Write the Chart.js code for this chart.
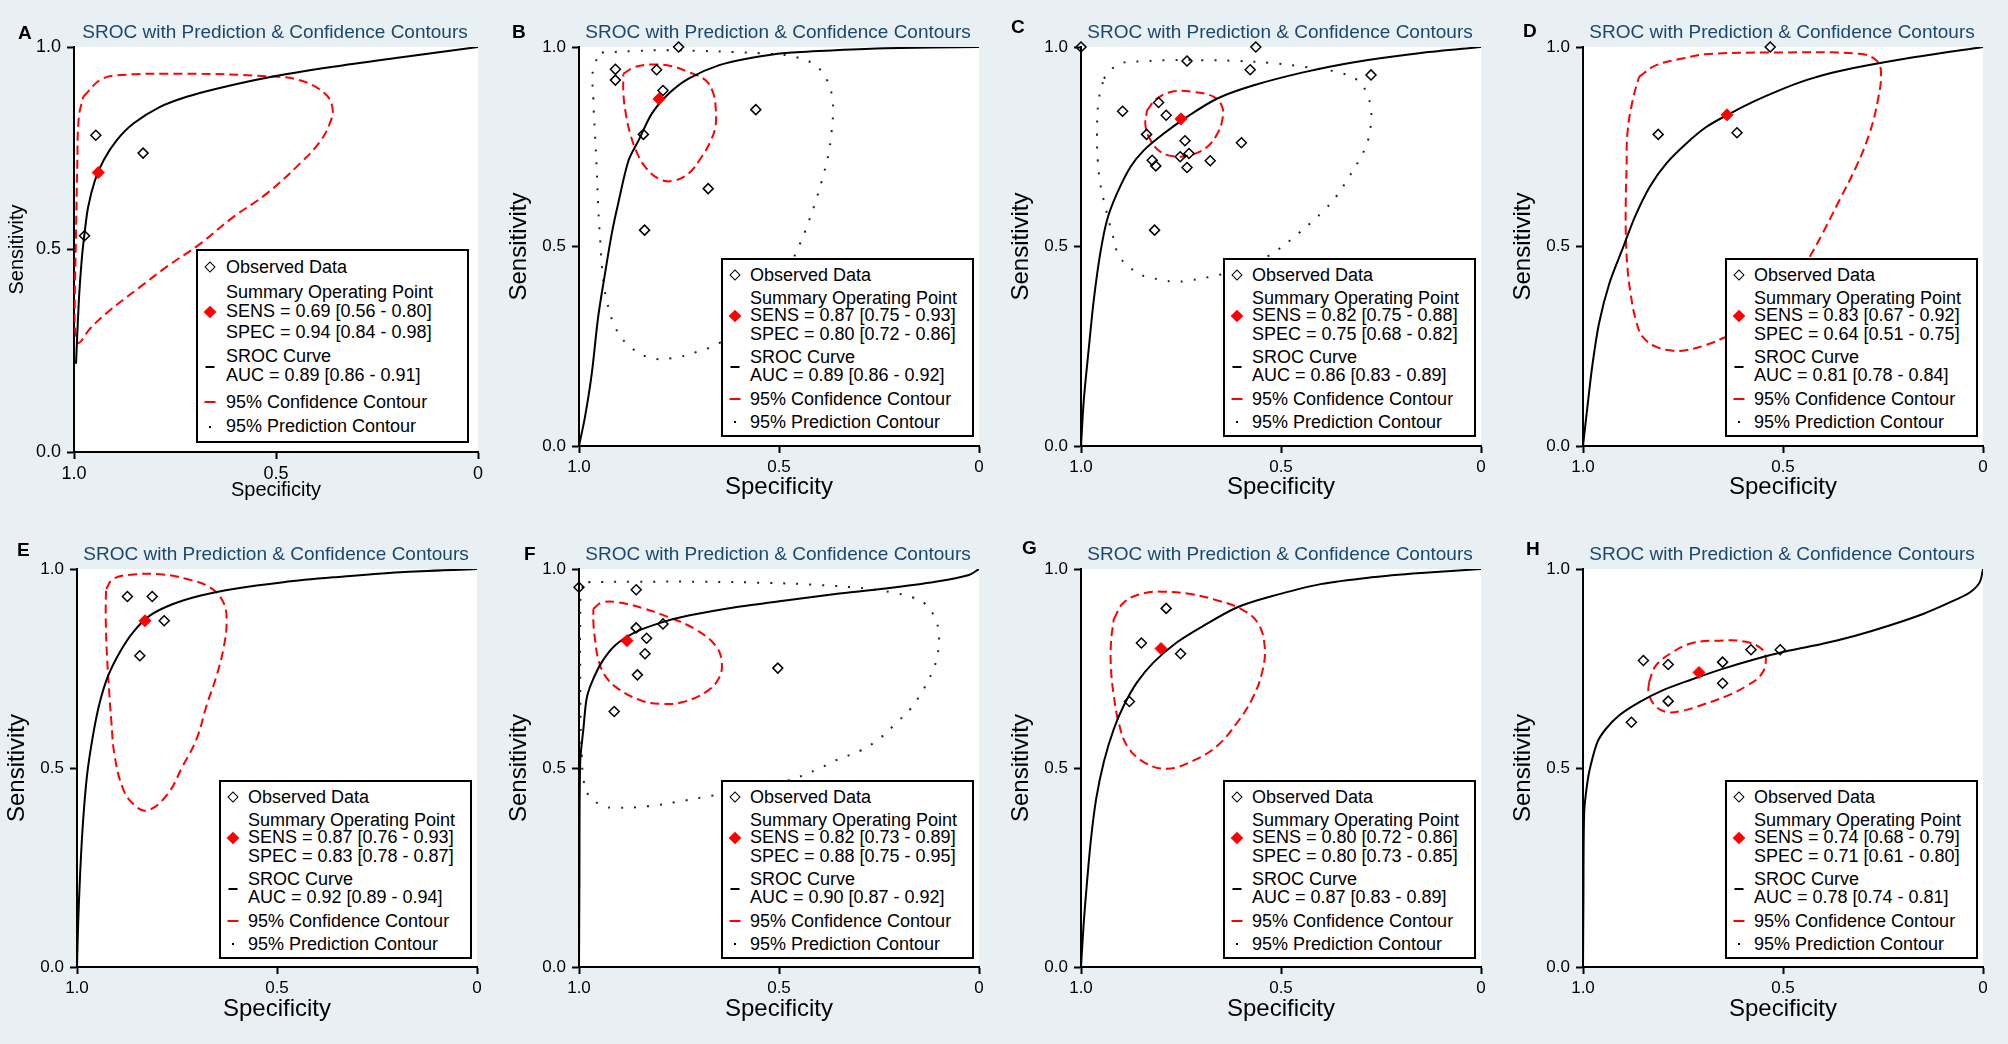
<!DOCTYPE html>
<html lang="en">
<head>
<meta charset="UTF-8">
<title>SROC with Prediction &amp; Confidence Contours</title>
<script src="https://cdn.jsdelivr.net/npm/chart.js"></script>
<style>
  body { margin: 0; background: #e9f0f3; font-family: "Liberation Sans", Arial, sans-serif; }
  #grid { position: relative; width: 2008px; height: 1044px; overflow: hidden; }
  .panel { position: absolute; width: 502px; height: 522px; }
  .panel canvas { position: absolute; left: 0; top: 0; }
  .letter { position: absolute; font-weight: bold; font-size: 19px; color: #000; transform: translateY(-50%); }
  .title { position: absolute; font-size: 19px; color: #1a476f; white-space: nowrap; transform: translate(-50%, -50%); }
  .legend { position: absolute; background: #fff; border: 2px solid #000; box-sizing: border-box; }
  .legend .txt { position: absolute; white-space: nowrap; line-height: 1; color: #000; transform: translateY(-50%); }
  .sym { position: absolute; transform: translate(-50%, -50%); }
  .s-obs { width: 6px; height: 6px; border: 1.5px solid #000; transform: translate(-50%, -50%) rotate(45deg); }
  .s-sum { width: 9px; height: 9px; background: #f00; transform: translate(-50%, -50%) rotate(45deg); }
  .s-line { width: 9px; height: 2px; background: #000; }
  .s-rline { width: 11px; height: 2px; background: #f00; }
  .s-dot { width: 2px; height: 2px; background: #000; }
</style>
</head>
<body>
<div id="grid"></div>

<script>
  // ---- data: [specificity, sensitivity] ----
  const panelLetters = ['A', 'B', 'C', 'D', 'E', 'F', 'G', 'H'];
  const tickValues = [0, 0.5, 1];
  const xTickLabels = ['0', '0.5', '1.0'];
  const yTickLabels = ['0.0', '0.5', '1.0'];

  const sensText = ['SENS = 0.69 [0.56 - 0.80]', 'SENS = 0.87 [0.75 - 0.93]', 'SENS = 0.82 [0.75 - 0.88]', 'SENS = 0.83 [0.67 - 0.92]',
                    'SENS = 0.87 [0.76 - 0.93]', 'SENS = 0.82 [0.73 - 0.89]', 'SENS = 0.80 [0.72 - 0.86]', 'SENS = 0.74 [0.68 - 0.79]'];
  const specText = ['SPEC = 0.94 [0.84 - 0.98]', 'SPEC = 0.80 [0.72 - 0.86]', 'SPEC = 0.75 [0.68 - 0.82]', 'SPEC = 0.64 [0.51 - 0.75]',
                    'SPEC = 0.83 [0.78 - 0.87]', 'SPEC = 0.88 [0.75 - 0.95]', 'SPEC = 0.80 [0.73 - 0.85]', 'SPEC = 0.71 [0.61 - 0.80]'];
  const aucText = ['AUC = 0.89 [0.86 - 0.91]', 'AUC = 0.89 [0.86 - 0.92]', 'AUC = 0.86 [0.83 - 0.89]', 'AUC = 0.81 [0.78 - 0.84]',
                   'AUC = 0.92 [0.89 - 0.94]', 'AUC = 0.90 [0.87 - 0.92]', 'AUC = 0.87 [0.83 - 0.89]', 'AUC = 0.78 [0.74 - 0.81]'];

  const summaryPoints = [[0.94, 0.69], [0.80, 0.87], [0.75, 0.82], [0.64, 0.83], [0.83, 0.87], [0.88, 0.82], [0.80, 0.80], [0.71, 0.74]];

  const obsA = [[0.946, 0.782], [0.829, 0.738], [0.974, 0.534]];
  const obsB = [[0.751, 1.0], [0.909, 0.944], [0.909, 0.917], [0.806, 0.943], [0.790, 0.891], [0.558, 0.843], [0.839, 0.781], [0.677, 0.645], [0.836, 0.541]];
  const obsC = [[1.0, 1.0], [0.563, 1.0], [0.735, 0.965], [0.577, 0.943], [0.275, 0.930], [0.806, 0.861], [0.896, 0.839], [0.787, 0.829], [0.836, 0.781],
                [0.740, 0.765], [0.599, 0.760], [0.752, 0.725], [0.730, 0.733], [0.822, 0.716], [0.813, 0.702], [0.735, 0.698], [0.677, 0.715], [0.816, 0.541]];
  const obsD = [[0.532, 1.0], [0.812, 0.781], [0.615, 0.785]];
  const obsE = [[0.874, 0.931], [0.812, 0.931], [0.782, 0.870], [0.843, 0.782]];
  const obsF = [[1.0, 0.954], [0.857, 0.948], [0.857, 0.852], [0.790, 0.862], [0.831, 0.826], [0.835, 0.787], [0.503, 0.751], [0.854, 0.734], [0.912, 0.642]];
  const obsG = [[0.787, 0.901], [0.849, 0.814], [0.751, 0.787], [0.879, 0.667]];
  const obsH = [[0.849, 0.770], [0.787, 0.760], [0.651, 0.766], [0.580, 0.797], [0.507, 0.797], [0.651, 0.713], [0.787, 0.668], [0.879, 0.615]];

  const srocA = [[0.995, 0.218], [0.988, 0.374], [0.981, 0.473], [0.974, 0.539], [0.965, 0.605], [0.948, 0.671], [0.927, 0.720], [0.894, 0.770],
                 [0.853, 0.811], [0.787, 0.852], [0.721, 0.877], [0.647, 0.897], [0.523, 0.924], [0.359, 0.951], [0.194, 0.974], [0.0, 1.0]];
  const srocB = [[1.0, 0.0], [0.985, 0.073], [0.968, 0.182], [0.952, 0.324], [0.935, 0.432], [0.918, 0.533], [0.902, 0.608], [0.876, 0.716], [0.851, 0.766],
                 [0.818, 0.833], [0.776, 0.883], [0.726, 0.921], [0.651, 0.954], [0.568, 0.973], [0.484, 0.985], [0.359, 0.992], [0.234, 0.997], [0.0, 1.0]];
  const srocC = [[1.0, 0.0], [0.993, 0.115], [0.981, 0.240], [0.968, 0.366], [0.952, 0.482], [0.935, 0.566], [0.910, 0.633], [0.876, 0.700], [0.843, 0.741],
                 [0.793, 0.783], [0.735, 0.825], [0.659, 0.871], [0.568, 0.904], [0.442, 0.937], [0.317, 0.962], [0.150, 0.985], [0.0, 1.0]];
  const srocD = [[1.0, 0.0], [0.989, 0.098], [0.977, 0.199], [0.960, 0.307], [0.934, 0.408], [0.900, 0.497], [0.870, 0.575], [0.833, 0.650],
                 [0.791, 0.709], [0.741, 0.759], [0.691, 0.800], [0.635, 0.832], [0.574, 0.863], [0.508, 0.892], [0.442, 0.917], [0.358, 0.940],
                 [0.192, 0.971], [0.0, 1.0]];
  const srocE = [[1.0, 0.0], [0.997, 0.113], [0.992, 0.238], [0.985, 0.364], [0.975, 0.481], [0.960, 0.582], [0.943, 0.665], [0.922, 0.732], [0.893, 0.791],
                 [0.860, 0.841], [0.818, 0.883], [0.760, 0.912], [0.693, 0.933], [0.609, 0.950], [0.484, 0.967], [0.359, 0.979], [0.192, 0.992], [0.0, 1.0]];
  const srocF = [[1.0, 0.0], [0.999, 0.213], [0.997, 0.515], [0.989, 0.598], [0.981, 0.674], [0.968, 0.715], [0.943, 0.766], [0.910, 0.808], [0.860, 0.841],
                 [0.793, 0.866], [0.726, 0.883], [0.609, 0.904], [0.484, 0.921], [0.359, 0.937], [0.234, 0.951], [0.109, 0.968], [0.025, 0.985], [0.0, 1.0]];
  const srocG = [[1.0, 0.0], [0.993, 0.113], [0.985, 0.213], [0.975, 0.322], [0.962, 0.423], [0.943, 0.515], [0.918, 0.598], [0.893, 0.657], [0.860, 0.715],
                 [0.818, 0.766], [0.760, 0.816], [0.693, 0.858], [0.609, 0.904], [0.526, 0.931], [0.401, 0.962], [0.275, 0.979], [0.150, 0.990], [0.0, 1.0]];
  const srocH = [[1.0, 0.0], [0.999, 0.163], [0.997, 0.389], [0.989, 0.464], [0.981, 0.506], [0.964, 0.565], [0.943, 0.598], [0.910, 0.632], [0.860, 0.665],
                 [0.801, 0.695], [0.735, 0.720], [0.651, 0.749], [0.568, 0.774], [0.484, 0.795], [0.401, 0.812], [0.317, 0.833], [0.234, 0.858],
                 [0.150, 0.887], [0.083, 0.916], [0.033, 0.941], [0.008, 0.967], [0.0, 1.0]];

  const confA = [[0.977, 0.877], [0.936, 0.918], [0.894, 0.930], [0.730, 0.934], [0.523, 0.928], [0.441, 0.918], [0.379, 0.885], [0.360, 0.848],
                 [0.367, 0.811], [0.392, 0.765], [0.441, 0.712], [0.523, 0.638], [0.606, 0.580], [0.688, 0.514], [0.771, 0.457], [0.837, 0.407],
                 [0.911, 0.350], [0.960, 0.305], [0.989, 0.269], [0.997, 0.300], [0.998, 0.374], [0.995, 0.539], [0.992, 0.704], [0.988, 0.827]];
  const confB = [[0.889, 0.933], [0.860, 0.950], [0.818, 0.956], [0.768, 0.952], [0.726, 0.937], [0.684, 0.917], [0.664, 0.883], [0.658, 0.841],
                 [0.659, 0.800], [0.672, 0.762], [0.693, 0.725], [0.726, 0.683], [0.768, 0.664], [0.801, 0.670], [0.835, 0.700], [0.856, 0.737],
                 [0.872, 0.783], [0.883, 0.833], [0.889, 0.883]];
  const confC = [[0.835, 0.841], [0.810, 0.871], [0.768, 0.889], [0.718, 0.887], [0.668, 0.875], [0.647, 0.850], [0.647, 0.816], [0.659, 0.783],
                 [0.684, 0.750], [0.726, 0.729], [0.768, 0.726], [0.801, 0.737], [0.826, 0.766], [0.839, 0.804]];
  const confD = [[0.860, 0.925], [0.818, 0.954], [0.751, 0.971], [0.693, 0.982], [0.526, 0.986], [0.309, 0.983], [0.267, 0.967], [0.255, 0.937],
                 [0.263, 0.866], [0.284, 0.783], [0.317, 0.700], [0.359, 0.616], [0.401, 0.533], [0.438, 0.466], [0.484, 0.391], [0.559, 0.316],
                 [0.651, 0.270], [0.693, 0.253], [0.743, 0.240], [0.776, 0.239], [0.818, 0.249], [0.851, 0.274], [0.868, 0.316], [0.881, 0.382],
                 [0.889, 0.449], [0.893, 0.533], [0.893, 0.616], [0.891, 0.700], [0.889, 0.783], [0.876, 0.866]];
  const confE = [[0.927, 0.950], [0.910, 0.975], [0.860, 0.986], [0.793, 0.987], [0.726, 0.975], [0.668, 0.954], [0.634, 0.916], [0.626, 0.866],
                 [0.634, 0.799], [0.651, 0.732], [0.676, 0.657], [0.701, 0.573], [0.735, 0.506], [0.776, 0.431], [0.826, 0.393], [0.860, 0.410],
                 [0.885, 0.448], [0.906, 0.531], [0.914, 0.615], [0.920, 0.699], [0.925, 0.782], [0.928, 0.866], [0.928, 0.925]];
  const confF = [[0.964, 0.900], [0.943, 0.916], [0.902, 0.916], [0.835, 0.900], [0.776, 0.879], [0.710, 0.849], [0.659, 0.808], [0.643, 0.766],
                 [0.651, 0.724], [0.684, 0.690], [0.743, 0.665], [0.793, 0.661], [0.843, 0.669], [0.902, 0.699], [0.935, 0.732], [0.952, 0.774],
                 [0.960, 0.824], [0.964, 0.866]];
  const confG = [[0.918, 0.874], [0.893, 0.916], [0.843, 0.939], [0.793, 0.943], [0.726, 0.937], [0.659, 0.921], [0.601, 0.900], [0.559, 0.866],
                 [0.541, 0.808], [0.547, 0.741], [0.572, 0.674], [0.609, 0.615], [0.659, 0.556], [0.718, 0.519], [0.785, 0.498], [0.843, 0.515],
                 [0.885, 0.556], [0.906, 0.615], [0.918, 0.682], [0.925, 0.749], [0.925, 0.816]];
  const confH = [[0.835, 0.715], [0.818, 0.757], [0.776, 0.791], [0.726, 0.814], [0.659, 0.820], [0.593, 0.817], [0.551, 0.797], [0.543, 0.768],
                 [0.555, 0.734], [0.593, 0.705], [0.643, 0.680], [0.701, 0.659], [0.751, 0.644], [0.793, 0.641], [0.822, 0.659], [0.836, 0.689]];

  const predB = [[0.943, 0.986], [0.860, 0.990], [0.776, 0.992], [0.693, 0.990], [0.609, 0.987], [0.526, 0.983], [0.459, 0.975], [0.409, 0.954],
                 [0.380, 0.917], [0.367, 0.875], [0.365, 0.833], [0.369, 0.783], [0.376, 0.733], [0.388, 0.683], [0.405, 0.624], [0.426, 0.562],
                 [0.451, 0.499], [0.484, 0.432], [0.526, 0.366], [0.584, 0.307], [0.651, 0.257], [0.705, 0.236], [0.768, 0.220], [0.826, 0.222],
                 [0.881, 0.257], [0.910, 0.299], [0.931, 0.366], [0.941, 0.432], [0.947, 0.516], [0.952, 0.599], [0.956, 0.700], [0.960, 0.783],
                 [0.964, 0.866], [0.964, 0.950]];
  const predC = [[0.943, 0.921], [0.906, 0.957], [0.843, 0.964], [0.776, 0.967], [0.693, 0.967], [0.609, 0.965], [0.526, 0.960], [0.442, 0.950],
                 [0.359, 0.937], [0.309, 0.917], [0.285, 0.883], [0.275, 0.841], [0.275, 0.808], [0.285, 0.758], [0.305, 0.716], [0.330, 0.674],
                 [0.363, 0.624], [0.392, 0.591], [0.426, 0.559], [0.467, 0.524], [0.509, 0.491], [0.551, 0.466], [0.609, 0.441], [0.659, 0.428],
                 [0.735, 0.414], [0.768, 0.412], [0.801, 0.417], [0.835, 0.424], [0.860, 0.434], [0.903, 0.474], [0.922, 0.533], [0.939, 0.599],
                 [0.952, 0.658], [0.958, 0.716], [0.960, 0.783], [0.956, 0.866]];
  const predF = [[0.977, 0.967], [0.860, 0.968], [0.693, 0.968], [0.526, 0.965], [0.401, 0.960], [0.275, 0.950], [0.217, 0.941], [0.167, 0.929],
                 [0.134, 0.912], [0.109, 0.874], [0.100, 0.833], [0.104, 0.782], [0.117, 0.741], [0.138, 0.699], [0.171, 0.649], [0.205, 0.615],
                 [0.250, 0.573], [0.296, 0.544], [0.359, 0.519], [0.401, 0.498], [0.476, 0.469], [0.568, 0.448], [0.676, 0.429], [0.760, 0.414],
                 [0.826, 0.404], [0.910, 0.400], [0.943, 0.406], [0.977, 0.433], [0.989, 0.473], [0.993, 0.531], [0.996, 0.615], [0.997, 0.741],
                 [0.997, 0.866], [0.993, 0.950]];

  const observed = [obsA, obsB, obsC, obsD, obsE, obsF, obsG, obsH];
  const srocCurves = [srocA, srocB, srocC, srocD, srocE, srocF, srocG, srocH];
  const confContours = [confA, confB, confC, confD, confE, confF, confG, confH];
  const predContours = [null, predB, predC, null, null, predF, null, null];

  // ---- layout of one panel (pixels inside a 502 x 522 cell) ----
  const geoA = { left: 74, right: 478, top: 47, bottom: 452, tick: 18, axis: 20, axisPad: 5,
                 lg: { x: 196, y: 249, w: 273, h: 194 }, rows: [18, 43, 62, 83, 107, 126, 153, 177],
                 sym: [18, 63, 118, 153, 178], txtX: 30, symX: 14, font: 18 };
  const geoTop = { left: 77, right: 477, top: 47, bottom: 446, tick: 17, axis: 24, axisPad: 3,
                   lg: { x: 219, y: 258, w: 253, h: 179 }, rows: [17, 40, 57, 76, 99, 117, 141, 164],
                   sym: [17, 58, 109, 141, 164], txtX: 29, symX: 14, font: 18 };
  const geoBot = Object.assign({}, geoTop, { bottom: 445 });
  const letterPos = [[18, 33], [10, 32], [7, 27], [17, 31], [17, 28], [22, 32], [18, 26], [20, 27]];

  Chart.defaults.font.family = '"Liberation Sans", Arial, Helvetica, sans-serif';
  Chart.defaults.color = '#000';

  const plotBg = {
    id: 'plotBg',
    beforeDraw(chart) {
      const { ctx, chartArea: a } = chart;
      ctx.save();
      ctx.fillStyle = '#fff';
      ctx.fillRect(a.left, a.top, a.right - a.left, a.bottom - a.top);
      ctx.restore();
    }
  };

  const toXY = arr => arr.map(p => ({ x: p[0], y: p[1] }));
  const closeLoop = arr => toXY(arr.concat([arr[0]]));

  function addLegend(panel, i, g) {
    const lg = document.createElement('div');
    lg.className = 'legend';
    Object.assign(lg.style, { left: g.lg.x + 'px', top: g.lg.y + 'px', width: g.lg.w + 'px', height: g.lg.h + 'px' });
    const lines = ['Observed Data', 'Summary Operating Point', sensText[i], specText[i],
                   'SROC Curve', aucText[i], '95% Confidence Contour', '95% Prediction Contour'];
    lines.forEach((t, k) => {
      const d = document.createElement('div');
      d.className = 'txt';
      d.textContent = t;
      d.style.left = (g.txtX - 2) + 'px';
      d.style.top = (g.rows[k] - 2) + 'px';
      d.style.fontSize = g.font + 'px';
      lg.appendChild(d);
    });
    ['s-obs', 's-sum', 's-line', 's-rline', 's-dot'].forEach((cls, k) => {
      const s = document.createElement('div');
      s.className = 'sym ' + cls;
      s.style.left = (g.symX - 2) + 'px';
      s.style.top = (g.sym[k] - 2) + 'px';
      lg.appendChild(s);
    });
    panel.appendChild(lg);
  }

  function makePanel(i) {
    const g = i === 0 ? geoA : (i < 4 ? geoTop : geoBot);
    const panel = document.createElement('div');
    panel.className = 'panel';
    panel.style.left = (i % 4) * 502 + 'px';
    panel.style.top = Math.floor(i / 4) * 522 + 'px';
    document.getElementById('grid').appendChild(panel);

    const canvas = document.createElement('canvas');
    canvas.width = 502;
    canvas.height = 522;
    panel.appendChild(canvas);

    const datasets = [
      { label: 'Summary Operating Point', data: toXY([summaryPoints[i]]), showLine: false, pointStyle: 'rectRot',
        pointRadius: 6, backgroundColor: '#ff0000', borderColor: '#ff0000', borderWidth: 1, order: 0, clip: false },
      { label: 'Observed Data', data: toXY(observed[i]), showLine: false, pointStyle: 'rectRot',
        pointRadius: 5, backgroundColor: 'rgba(0,0,0,0)', borderColor: '#000', borderWidth: 1.5, order: 1, clip: false },
      { label: 'SROC Curve', data: toXY(srocCurves[i]), showLine: true, pointRadius: 0, borderColor: '#000',
        borderWidth: 2, tension: 0.3, fill: false, order: 2 },
      { label: '95% Confidence Contour', data: closeLoop(confContours[i]), showLine: true, pointRadius: 0,
        borderColor: '#ff0000', borderWidth: 2, borderDash: [9, 5], tension: 0.4, fill: false, order: 3 }
    ];
    if (predContours[i]) {
      datasets.push({ label: '95% Prediction Contour', data: closeLoop(predContours[i]), showLine: true, pointRadius: 0,
        borderColor: '#222', borderWidth: 2, borderDash: [2, 11], tension: 0.4, fill: false, order: 4 });
    }

    new Chart(canvas, {
      type: 'scatter',
      data: { datasets },
      options: {
        responsive: false,
        animation: false,
        events: [],
        layout: { padding: { left: 0, top: g.top, right: 502 - g.right, bottom: 0 } },
        plugins: { legend: { display: false }, tooltip: { enabled: false }, title: { display: false } },
        scales: {
          x: {
            type: 'linear', min: 0, max: 1, reverse: true,
            afterBuildTicks: s => { s.ticks = tickValues.map(v => ({ value: v })); },
            afterFit: s => { s.height = 522 - g.bottom; },
            ticks: { padding: 4, maxRotation: 0, autoSkip: false, font: { size: g.tick },
                     callback: v => xTickLabels[tickValues.indexOf(v)] },
            grid: { drawOnChartArea: false, drawTicks: true, tickLength: 7, tickWidth: 2, tickColor: '#000' },
            border: { display: true, color: '#000', width: 2 },
            title: { display: true, text: 'Specificity', font: { size: g.axis }, padding: { top: 0, bottom: 20 } }
          },
          y: {
            type: 'linear', min: 0, max: 1,
            afterBuildTicks: s => { s.ticks = tickValues.map(v => ({ value: v })); },
            afterFit: s => { s.width = g.left; },
            ticks: { padding: 6, font: { size: g.tick }, callback: v => yTickLabels[tickValues.indexOf(v)] },
            grid: { drawOnChartArea: false, drawTicks: true, tickLength: 7, tickWidth: 2, tickColor: '#000' },
            border: { display: true, color: '#000', width: 2 },
            title: { display: true, text: 'Sensitivity', font: { size: g.axis }, padding: { top: g.axisPad, bottom: 0 } }
          }
        }
      },
      plugins: [plotBg]
    });

    const letter = document.createElement('div');
    letter.className = 'letter';
    letter.textContent = panelLetters[i];
    letter.style.left = letterPos[i][0] + 'px';
    letter.style.top = letterPos[i][1] + 'px';
    panel.appendChild(letter);

    const title = document.createElement('div');
    title.className = 'title';
    title.textContent = 'SROC with Prediction & Confidence Contours';
    title.style.left = ((g.left + g.right) / 2 - 1) + 'px';
    title.style.top = '32px';
    panel.appendChild(title);

    addLegend(panel, i, g);
  }

  panelLetters.forEach((_, i) => makePanel(i));
</script>
</body>
</html>
